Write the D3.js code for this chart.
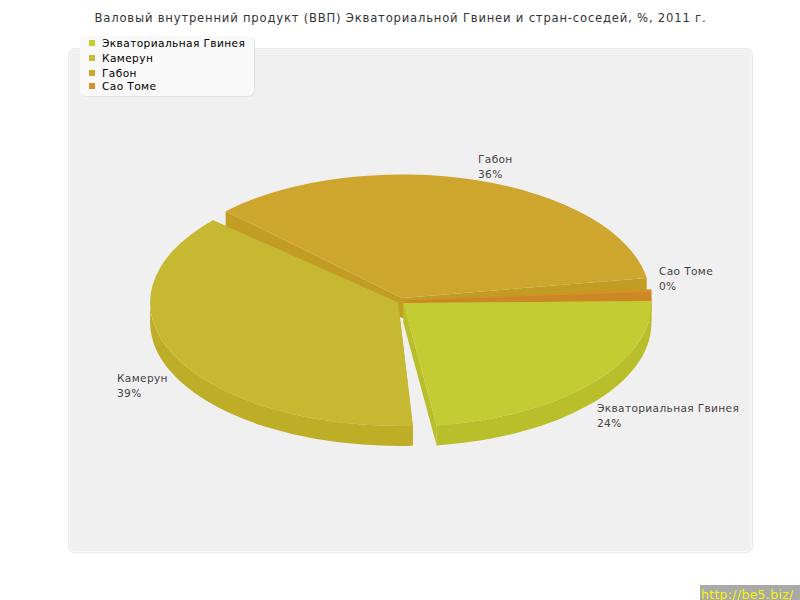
<!DOCTYPE html>
<html><head><meta charset="utf-8">
<script src="https://cdnjs.cloudflare.com/ajax/libs/d3/7.8.5/d3.min.js"></script>
<style>html,body{margin:0;padding:0;background:#fff}svg{display:block}text{font-family:"DejaVu Sans",sans-serif}</style>
</head><body><div id="c"></div>
<script>
const titleText = "Валовый внутренний продукт (ВВП) Экваториальной Гвинеи и стран-соседей, %, 2011 г.";
const categories = ["Экваториальная Гвинея","Камерун","Габон","Сао Томе"];
const values = [24.0,39.2,36.3,0.3];
const percentLabels = ["24%","39%","36%","0%"];
const topColors = ["#c4cc33","#c6b931","#cea62e","#d98f2a"];
const sideColors = ["#b9bf2b","#beae27","#c39c24","#cd8826"];
const legendColors = ["#c8cc2e","#c8bc30","#cfa62f","#d9902f"];
const W=800,H=600, cx=401, cy=301, rx=248, ry=123.5, depth=20, explode=3.2;
const deg=Math.PI/180;
// small per-slice edge adjustments (degrees) for the gaps between exploded slices
const edgeNudge=[[0,-0.2],[0.9,-0.4],[-0.6,-0.8],[0,0]];
const labelAnchors=[[597,412],[117,382],[478,163],[659,275]];
const legendRowY=[43,58,73,86];

const svg=d3.select("#c").append("svg").attr("width",W).attr("height",H);
// panel
svg.append("rect").attr("x",68.5).attr("y",48.5).attr("width",684).attr("height",504).attr("rx",6)
  .attr("fill","#f0f0f0").attr("stroke","#e9e9e9").attr("stroke-width",1);
svg.append("rect").attr("x",69.5).attr("y",49.5).attr("width",682).attr("height",502).attr("rx",5)
  .attr("fill","none").attr("stroke","#f8f8f8").attr("stroke-width",1);

svg.append("text").attr("x",400.5).attr("y",22).attr("text-anchor","middle")
  .attr("font-size",11.6).attr("letter-spacing",0.8).attr("fill","#333").text(titleText);

// pie
const pie=d3.pie().sort(null).startAngle(87.4*deg).endAngle((87.4+360)*deg).padAngle(3.2*deg);
const arcs=pie(values);
const k=ry/rx, dz=depth/k;
const arcGen=d3.arc().innerRadius(0).outerRadius(rx);
const drawOrder=[2,3,1,0];
const root=svg.append("g");
drawOrder.forEach(i=>{
  const d=arcs[i];
  const a0=d.startAngle+d.padAngle/2+edgeNudge[i][0]*deg, a1=d.endAngle-d.padAngle/2+edgeNudge[i][1]*deg;
  const t0=a0-Math.PI/2, t1=a1-Math.PI/2, tm=(t0+t1)/2;
  let tw0=t0, tw1=t1; // normalise for visible front half
  if(tw0>Math.PI){tw0-=2*Math.PI;tw1-=2*Math.PI;}
  const g=root.append("g").attr("transform",`translate(${cx+explode*Math.cos(tm)},${cy+explode*Math.sin(tm)}) scale(1,${k})`);
  // radial walls
  [tw0,tw1].forEach(t=>{
    const p=d3.path();
    p.moveTo(0,0);p.lineTo(rx*Math.cos(t),rx*Math.sin(t));
    p.lineTo(rx*Math.cos(t),rx*Math.sin(t)+dz);p.lineTo(0,dz);p.closePath();
    g.append("path").attr("d",p.toString()).attr("fill",sideColors[i]);
  });
  // outer rim (front half only)
  const f0=Math.max(tw0,0), f1=Math.min(tw1,Math.PI);
  if(f1>f0){
    const p=d3.path();
    p.moveTo(rx*Math.cos(f0),rx*Math.sin(f0));
    p.arc(0,0,rx,f0,f1,false);
    p.lineTo(rx*Math.cos(f1),rx*Math.sin(f1)+dz);
    p.arc(0,dz,rx,f1,f0,true);
    p.closePath();
    g.append("path").attr("d",p.toString()).attr("fill",sideColors[i]);
  }
  g.append("path").attr("d",arcGen({startAngle:a0,endAngle:a1})).attr("fill",topColors[i]);
});

// slice labels
categories.forEach((c,i)=>{
  const t=svg.append("text").attr("font-size",10.6).attr("letter-spacing",0.35).attr("fill","#444");
  t.append("tspan").attr("x",labelAnchors[i][0]).attr("y",labelAnchors[i][1]).text(c);
  t.append("tspan").attr("x",labelAnchors[i][0]).attr("y",labelAnchors[i][1]+15).text(percentLabels[i]);
});

// legend
svg.append("rect").attr("x",81).attr("y",37).attr("width",174).attr("height",60).attr("rx",6).attr("fill","#e2e2e2");
svg.append("rect").attr("x",80).attr("y",36).attr("width",174).attr("height",60).attr("rx",6).attr("fill","#f9f9f9");
categories.forEach((c,i)=>{
  svg.append("rect").attr("x",89).attr("y",legendRowY[i]-3).attr("width",6).attr("height",6).attr("fill",legendColors[i]);
  svg.append("text").attr("x",102).attr("y",legendRowY[i]+4).attr("font-size",10.6).attr("letter-spacing",0.4).attr("fill","#000").text(c);
});

// watermark
svg.append("rect").attr("x",700).attr("y",585).attr("width",100).attr("height",15).attr("fill","#a9a9a9");
svg.append("text").attr("x",701).attr("y",598.5).attr("font-size",12.5).attr("letter-spacing",0.3).attr("fill","#f5f500").text("http://be5.biz/");
</script></body></html>
